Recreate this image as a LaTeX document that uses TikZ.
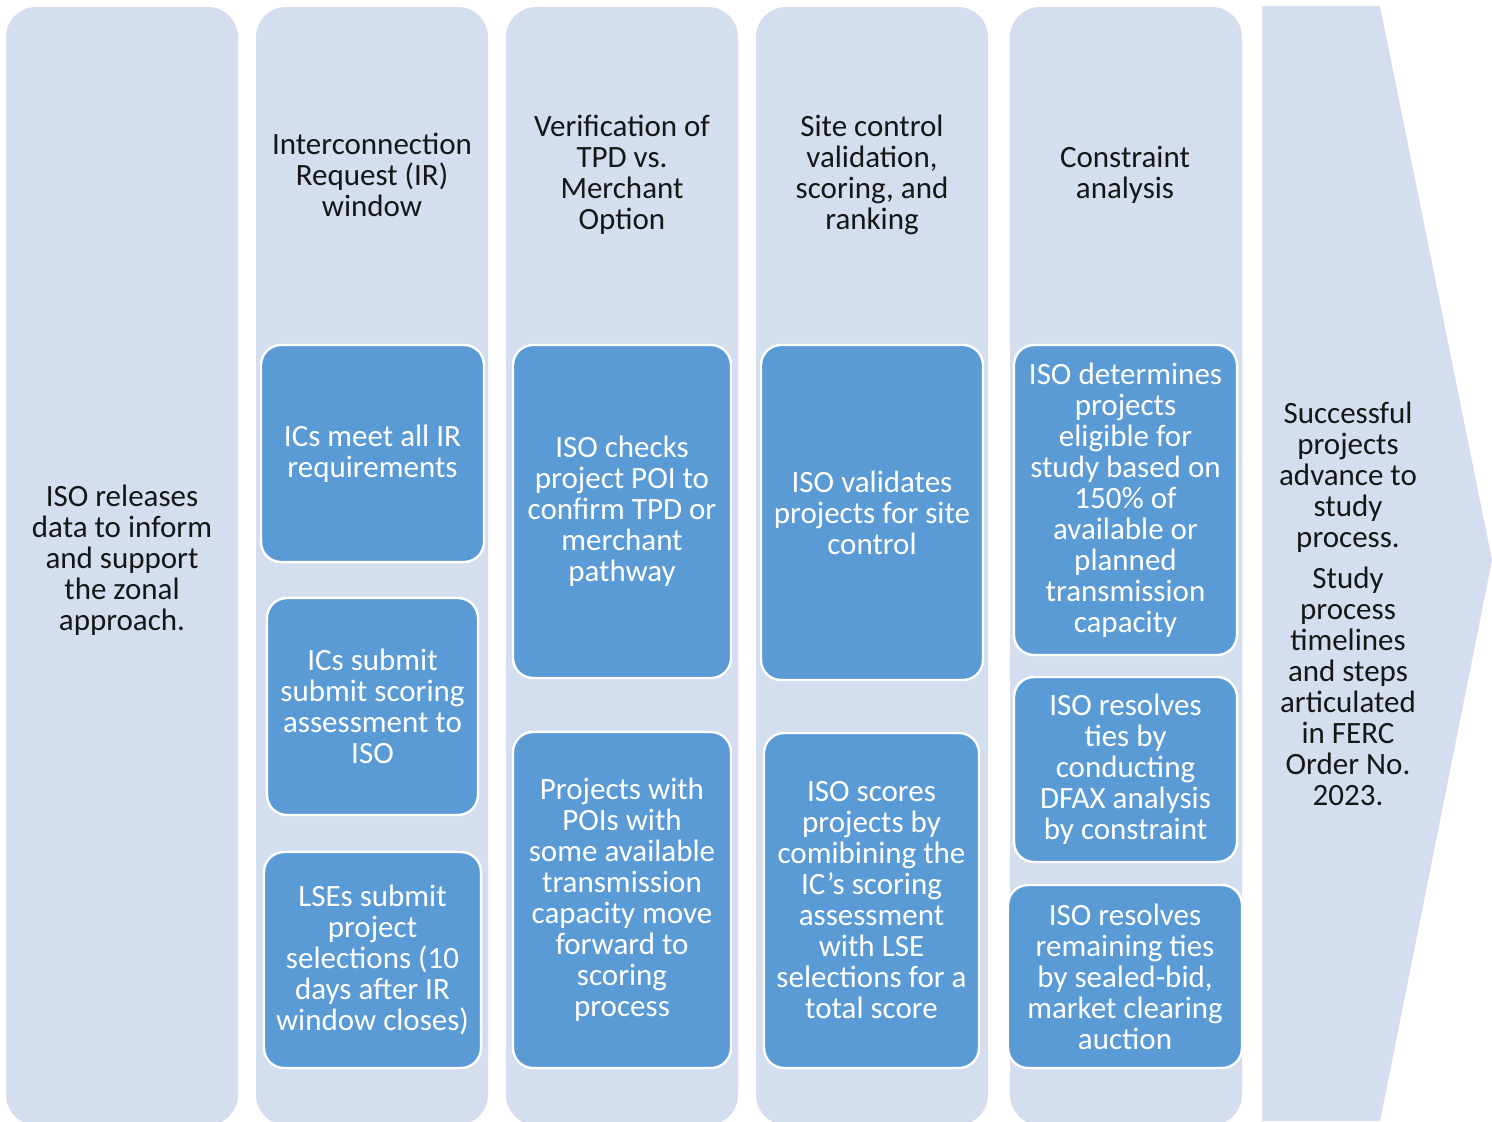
\documentclass[tikz,border=0pt]{standalone}
\usepackage{fontspec}
\setmainfont{Carlito}
\definecolor{lanefill}{RGB}{212,222,238}
\definecolor{cardfill}{RGB}{91,155,213}
\definecolor{ink}{RGB}{22,22,22}
\newcommand{\flowfont}{\fontsize{15.5pt}{15.5pt}\selectfont}
\tikzset{
  lane/.style={fill=lanefill, draw=none, rounded corners=15pt, inner sep=0pt, outer sep=0pt},
  heading/.style={text=ink, align=center, font=\flowfont, inner sep=0pt},
  card/.style={fill=cardfill, draw=white, line width=1.2pt, rounded corners=10pt,
               text=white, align=center, font=\flowfont, inner sep=0pt, outer sep=0pt},
}
\begin{document}
\begin{tikzpicture}[x=0.5pt, y=-0.5pt]
\useasboundingbox[fill=white] (0,0) rectangle (1492,1121);

% swim lanes
\node[lane, minimum width=116pt, minimum height=559pt] (lane1) at (122,566) {};
\node[lane, minimum width=116pt, minimum height=559pt] (lane2) at (372,566) {};
\node[lane, minimum width=116pt, minimum height=559pt] (lane3) at (622,566) {};
\node[lane, minimum width=116pt, minimum height=559pt] (lane4) at (872,566) {};
\node[lane, minimum width=116pt, minimum height=559pt] (lane5) at (1126,566) {};

% closing chevron
\fill[lanefill] (1262,6) -- (1380,6) -- (1492,560) -- (1380,1121) -- (1262,1121) -- cycle;

% lane texts
\node[heading] (start) at (122,560) {ISO releases\\data to inform\\and support\\the zonal\\approach.};
\node[heading] (h2) at (372,175) {Interconnection\\Request (IR)\\window};
\node[heading] (h3) at (622,175) {Verification of\\TPD vs.\\Merchant\\Option};
\node[heading] (h4) at (872,175) {Site control\\validation,\\scoring, and\\ranking};
\node[heading] (h5) at (1125,175) {Constraint\\analysis};
\node[heading] (finish) at (1348,604) {Successful\\projects\\advance to\\study\\process.\\[5pt]Study\\process\\timelines\\and steps\\articulated\\in FERC\\Order No.\\2023.};

% step cards
\node[card, minimum width=111.5pt, minimum height=108.5pt] (b21) at (372.5,453.5) {ICs meet all IR\\requirements};
\node[card, minimum width=105.5pt, minimum height=108.5pt] (b22) at (372.5,706.5) {ICs submit\\submit scoring\\assessment to\\ISO};
\node[card, minimum width=108.5pt, minimum height=108pt] (b23) at (372.5,960) {LSEs submit\\project\\selections (10\\days after IR\\window closes)};

\node[card, minimum width=109pt, minimum height=166.5pt] (b31) at (622,511.5) {ISO checks\\project POI to\\confirm TPD or\\merchant\\pathway};
\node[card, minimum width=109pt, minimum height=168pt] (b32) at (622,900) {Projects with\\POIs with\\some available\\transmission\\capacity move\\forward to\\scoring\\process};

\node[card, minimum width=111pt, minimum height=167.5pt] (b41) at (872,512.5) {ISO validates\\projects for site\\control};
\node[card, minimum width=107.5pt, minimum height=167.5pt] (b42) at (871.5,900.5) {ISO scores\\projects by\\comibining the\\IC’s scoring\\assessment\\with LSE\\selections for a\\total score};

\node[card, minimum width=111.5pt, minimum height=155pt] (b51) at (1125.5,500) {ISO determines\\projects\\eligible for\\study based on\\150\% of\\available or\\planned\\transmission\\capacity};
\node[card, minimum width=111.5pt, minimum height=92.5pt] (b52) at (1125.5,769.5) {ISO resolves\\ties by\\conducting\\DFAX analysis\\by constraint};
\node[card, minimum width=117pt, minimum height=91.5pt] (b53) at (1125,976.5) {ISO resolves\\remaining ties\\by sealed-bid,\\market clearing\\auction};
\end{tikzpicture}
\end{document}
